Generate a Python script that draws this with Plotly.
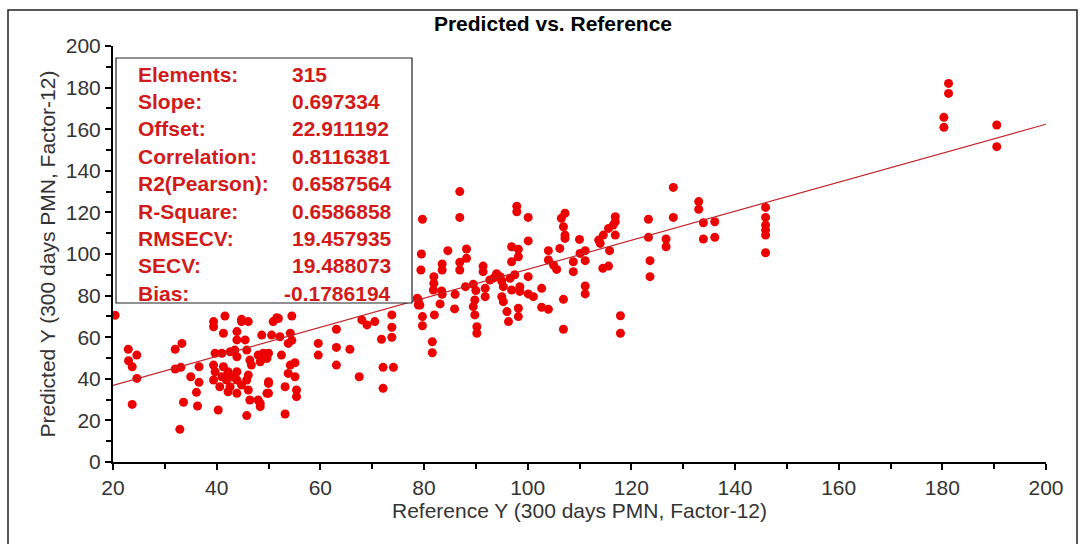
import plotly.graph_objects as go

# ---------------- data ----------------
ref_y = [
    20.4,
    22.95, 24.6, 23.0, 23.7, 24.6, 23.7,
    32.0, 33.3, 32.0, 33.1, 35.0, 36.6, 36.6, 36.1, 33.6, 36.3, 32.9,
    39.4, 39.4, 41.3, 43.9, 44.8, 46.1, 43.9, 45.5, 48.7, 43.5, 45.8, 39.7, 41.0, 42.6,
    48.0, 49.0, 50.0, 43.9, 46.4, 39.4, 41.3, 46.7, 48.4, 39.7, 42.2, 43.9, 41.0, 42.9,
    46.1, 39.4, 41.9, 43.9, 40.6, 42.6, 44.8, 45.8, 50.0, 42.2, 43.9, 46.1, 49.7, 46.4,
    48.0, 48.4, 40.3, 45.8,
    41.6, 44.8, 51.6, 54.5, 50.9, 51.9,
    50.6, 52.2, 54.2, 53.8, 54.5, 49.0, 49.7, 52.5, 54.2, 55.1, 53.8, 55.1, 50.0, 53.2,
    55.4, 55.4, 50.0, 48.4, 53.2,
    59.6, 59.6, 63.1, 63.1, 65.7, 63.1, 67.5, 68.0, 69.0, 70.5, 71.8, 73.8, 73.8, 72.1,
    74.1, 72.1, 73.8, 78.9, 79.2, 78.7,
    86.9, 86.9, 79.7, 97.9, 97.9, 100.1, 106.5, 107.2, 106.9, 107.2, 100.1, 106.2, 104.0,
    96.9, 98.2, 98.2, 96.9, 79.5, 84.6, 88.2, 88.2, 86.9, 83.5, 83.5, 86.9, 79.4, 91.4,
    91.4, 104.0, 105.0, 105.6, 100.1, 81.9, 81.9, 81.8, 83.4, 83.5, 86.0, 88.0, 89.5,
    90.0, 91.8, 92.7, 91.8, 94.7, 95.0, 95.3, 96.6, 96.9, 98.5, 98.5, 100.1, 101.1,
    102.7, 106.9, 78.9, 83.1, 85.9, 89.8, 89.5, 89.8, 95.0, 95.3, 96.0, 96.3, 98.2, 98.2,
    102.7, 104.0, 79.7, 79.7, 82.0, 90.2, 90.2, 81.6, 81.6, 106.9, 93.5, 94.0, 97.5,
    128.1, 128.1, 133.0, 133.0, 133.9, 136.1, 133.9, 136.1, 123.3, 123.3, 126.7, 126.7,
    123.6, 123.6, 116.9, 116.9, 116.5, 115.6, 114.6, 113.7, 114.0, 116.9, 115.8, 115.6,
    114.5, 111.1, 110.1, 111.1, 110.0, 107.2, 108.8, 108.8, 111.1, 111.1, 117.9, 117.9,
    181.2, 181.2, 180.3, 180.3, 190.5, 190.5,
    145.9, 145.9, 145.9, 145.9, 145.9, 145.9,
]
pred_y = [
    70.5,
    54.2, 51.4, 48.7, 45.8, 40.2, 27.7,
    54.2, 57.0, 44.7, 45.5, 41.0, 45.8, 38.3, 33.5, 28.7, 26.9, 15.7,
    67.5, 65.0, 61.9, 62.7, 67.5, 67.5, 58.7, 58.7, 61.0, 53.8, 53.8, 52.3, 52.3, 53.0,
    51.4, 49.8, 52.3, 50.6, 49.0, 46.6, 45.8, 46.6, 48.2, 43.4, 43.4, 43.4, 41.0, 41.0,
    41.8, 39.4, 39.4, 39.4, 36.2, 36.2, 37.0, 39.4, 37.8, 33.8, 33.0, 34.6, 33.0, 29.8,
    29.8, 26.6, 25.0, 22.3,
    70.2, 68.6, 69.4, 70.2, 67.5, 69.0,
    61.0, 60.2, 61.9, 57.0, 58.5, 52.3, 49.8, 51.4, 46.6, 47.7, 42.6, 41.0, 38.6, 36.2,
    34.6, 31.4, 33.0, 28.2, 23.1,
    57.0, 51.4, 63.8, 55.1, 54.2, 46.6, 41.0, 68.3, 65.9, 67.5, 59.0, 64.8, 60.0, 45.5,
    45.5, 35.4, 70.7, 77.9, 75.5, 78.7,
    130.0, 117.6, 116.7, 123.0, 120.3, 117.6, 117.2, 119.6, 113.1, 109.1, 106.3, 102.7, 101.6,
    103.5, 102.3, 98.7, 96.3, 100.0, 101.6, 102.4, 97.9, 96.0, 95.2, 92.3, 92.3, 92.3, 94.2,
    91.5, 97.1, 94.7, 92.6, 89.1, 89.1, 85.9, 82.7, 82.2, 80.6, 80.6, 84.3, 85.4,
    82.4, 83.5, 87.5, 79.5, 89.1, 87.0, 84.3, 88.3, 82.7, 84.3, 82.0, 80.8, 79.5,
    83.5, 78.2, 75.5, 76.0, 73.6, 77.9, 74.7, 70.7, 79.5, 77.1, 72.3, 67.5, 73.9, 69.9,
    74.4, 73.4, 69.9, 65.5, 70.7, 65.0, 61.9, 57.8, 52.5, 63.8, 88.5, 90.5, 90.0,
    132.0, 117.6, 125.2, 121.5, 115.0, 115.5, 107.2, 108.0, 116.7, 108.0, 107.2, 103.5,
    96.8, 89.1, 117.9, 115.5, 113.9, 112.3, 109.1, 106.7, 105.1, 109.1, 101.6, 94.2,
    93.1, 101.6, 100.3, 96.8, 107.0, 107.5, 96.3, 91.5, 84.6, 80.8, 70.3, 61.9,
    182.0, 177.2, 165.7, 160.9, 162.0, 151.6,
    122.4, 117.6, 113.9, 111.5, 109.1, 100.6,
]

stat_labels = ["Elements:", "Slope:", "Offset:", "Correlation:", "R2(Pearson):",
               "R-Square:", "RMSECV:", "SECV:", "Bias:"]
stat_values = ["315", "0.697334", "22.911192", "0.8116381", "0.6587564",
               "0.6586858", "19.457935", "19.488073", "-0.1786194"]

slope = 0.697334
offset = 22.911192
x_range = [20, 200]
y_range = [0, 200]

# ---------------- layout geometry ----------------
W, H = 1084, 544
ML, MR, MT, MB = 113, 38, 46, 82
PW, PH = W - ML - MR, H - MT - MB


def px_x(px):
    return (px - ML) / PW


def px_y(py):
    return (H - MB - py) / PH


RED = "rgb(236,0,0)"
TXT_RED = "#d11a1a"
FONT = "Liberation Sans, Arial, sans-serif"
FS = 21

fig = go.Figure()

fig.add_trace(go.Scatter(
    x=ref_y, y=pred_y, mode="markers",
    marker=dict(size=9, color=RED, line=dict(width=0)),
    hoverinfo="x+y", showlegend=False,
))

fig.add_trace(go.Scatter(
    x=x_range, y=[slope * v + offset for v in x_range], mode="lines",
    line=dict(color="#c0262b", width=1.2),
    showlegend=False, hoverinfo="skip",
))

axis_common = dict(
    showgrid=False, zeroline=False, showline=True, linecolor="black", linewidth=2,
    ticks="outside", ticklen=6, tickwidth=1.5, tickcolor="black",
    tickfont=dict(family=FONT, size=FS, color="#333333"),
    mirror=False, automargin=False,
)

fig.update_xaxes(
    range=x_range, dtick=20, tick0=0,
    minor=dict(dtick=10, ticks="outside", ticklen=5, tickcolor="black", tickwidth=1.5),
    title=dict(text="Reference Y (300 days PMN, Factor-12)",
               font=dict(family=FONT, size=FS, color="#333333"), standoff=4),
    **axis_common,
)
fig.update_yaxes(
    range=y_range, dtick=20, tick0=0,
    minor=dict(dtick=10, ticks="outside", ticklen=5, tickcolor="black", tickwidth=1.5),
    title=dict(text="Predicted Y (300 days PMN, Factor-12)",
               font=dict(family=FONT, size=FS, color="#333333"), standoff=4),
    **axis_common,
)

shapes = [
    # outer frame
    dict(type="rect", xref="paper", yref="paper",
         x0=px_x(8), x1=px_x(1077), y0=px_y(560), y1=px_y(10),
         line=dict(color="#222222", width=1.5), fillcolor="rgba(0,0,0,0)", layer="above"),
    # statistics box
    dict(type="rect", xref="paper", yref="paper",
         x0=px_x(116), x1=px_x(412), y0=px_y(303), y1=px_y(58),
         line=dict(color="#222222", width=1.2), fillcolor="white", layer="above"),
]

annotations = []
for i, (lab, val) in enumerate(zip(stat_labels, stat_values)):
    yc = px_y(74 + 27.4 * i)
    annotations.append(dict(
        xref="paper", yref="paper", x=px_x(136), y=yc, xanchor="left", yanchor="middle",
        text="<b>%s</b>" % lab, showarrow=False,
        font=dict(family=FONT, size=FS, color=TXT_RED)))
    vx = 282 if val.startswith("-") else 290
    annotations.append(dict(
        xref="paper", yref="paper", x=px_x(vx), y=yc, xanchor="left", yanchor="middle",
        text="<b>%s</b>" % val, showarrow=False,
        font=dict(family=FONT, size=FS, color=TXT_RED)))

fig.update_layout(
    width=W, height=H,
    margin=dict(l=ML, r=MR, t=MT, b=MB, autoexpand=False),
    paper_bgcolor="white", plot_bgcolor="white",
    title=dict(text="<b>Predicted vs. Reference</b>", x=553 / W, xanchor="center",
               y=1 - 24 / H, yanchor="middle", xref="container", yref="container",
               font=dict(family=FONT, size=FS, color="black")),
    shapes=shapes, annotations=annotations,
)

fig.write_html("out.html", config={"displayModeBar": False},
               post_script="document.body.style.margin='0';document.body.style.overflow='hidden';")
